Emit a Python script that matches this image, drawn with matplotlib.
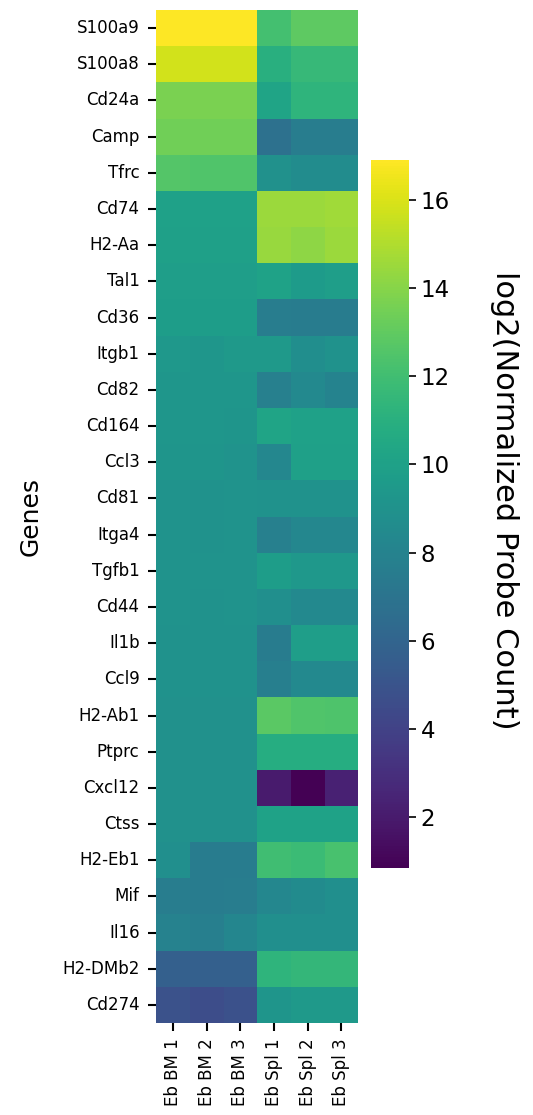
import numpy as np
import pandas as pd
import seaborn as sns
import matplotlib
matplotlib.use("Agg")
import matplotlib.pyplot as plt

genes = ["S100a9", "S100a8", "Cd24a", "Camp", "Tfrc", "Cd74", "H2-Aa", "Tal1",
         "Cd36", "Itgb1", "Cd82", "Cd164", "Ccl3", "Cd81", "Itga4", "Tgfb1",
         "Cd44", "Il1b", "Ccl9", "H2-Ab1", "Ptprc", "Cxcl12", "Ctss", "H2-Eb1",
         "Mif", "Il16", "H2-DMb2", "Cd274"]
samples = ["Eb BM 1", "Eb BM 2", "Eb BM 3", "Eb Spl 1", "Eb Spl 2", "Eb Spl 3"]

# log2 normalized probe counts
eb_bm_1 = [16.9, 15.8, 13.7, 13.4, 12.6, 10.0, 9.9, 9.8, 9.7, 9.4, 9.3, 9.3, 9.2, 9.1,
           9.1, 9.1, 9.1, 9.0, 9.0, 8.9, 8.9, 8.9, 8.9, 8.8, 7.6, 7.9, 5.7, 4.9]
eb_bm_2 = [16.9, 15.8, 13.7, 13.4, 12.5, 10.0, 9.9, 9.8, 9.7, 9.3, 9.3, 9.3, 9.2, 9.0,
           9.0, 9.1, 9.0, 9.0, 9.0, 8.9, 8.9, 8.9, 8.9, 7.5, 7.5, 7.7, 5.7, 4.6]
eb_bm_3 = [16.9, 15.8, 13.7, 13.4, 12.5, 10.0, 9.9, 9.8, 9.7, 9.5, 9.3, 9.2, 9.1, 9.1,
           9.1, 9.1, 9.1, 9.0, 9.0, 8.9, 8.9, 8.9, 8.9, 7.5, 7.6, 8.2, 5.7, 4.8]
eb_spl_1 = [12.1, 11.0, 10.2, 6.8, 8.9, 14.5, 14.4, 10.1, 7.6, 9.5, 7.8, 10.2, 8.3, 9.0,
            7.8, 9.7, 8.8, 7.5, 7.7, 12.8, 10.8, 2.0, 10.1, 12.0, 8.3, 8.8, 11.3, 9.2]
eb_spl_2 = [12.9, 11.6, 11.3, 7.6, 8.6, 14.5, 14.2, 9.6, 7.5, 8.7, 8.4, 10.0, 9.9, 9.0,
            8.3, 9.4, 8.4, 9.8, 8.4, 12.5, 10.8, 0.85, 10.1, 11.8, 8.5, 8.8, 11.5, 9.5]
eb_spl_3 = [12.9, 11.6, 11.3, 7.6, 8.6, 14.6, 14.5, 9.8, 7.5, 9.0, 8.0, 10.0, 9.9, 9.0,
            8.3, 9.4, 8.4, 9.8, 8.4, 12.4, 10.8, 2.3, 10.1, 12.2, 8.8, 8.8, 11.5, 9.5]

df = pd.DataFrame({"Eb BM 1": eb_bm_1, "Eb BM 2": eb_bm_2, "Eb BM 3": eb_bm_3,
                   "Eb Spl 1": eb_spl_1, "Eb Spl 2": eb_spl_2, "Eb Spl 3": eb_spl_3},
                  index=genes)[samples]

fig = plt.figure(figsize=(5.33, 11.15), dpi=100)
ax = fig.add_axes([0.293, 0.0825, 0.379, 0.9085])
cax = fig.add_axes([0.696, 0.2215, 0.071, 0.635])

sns.heatmap(df, cmap="viridis", ax=ax, cbar_ax=cax)

ax.set_ylabel("Genes", fontsize=18, labelpad=14)
ax.set_xlabel("")
ax.tick_params(axis="y", labelsize=12, length=6, width=1.5, pad=6, rotation=0)
ax.tick_params(axis="x", labelsize=12, length=6, width=1.5, pad=5, rotation=90)

cax.tick_params(labelsize=16.5, length=5, width=1.2)
cax.set_ylabel("log2(Normalized Probe Count)", rotation=270, fontsize=22)
cax.yaxis.set_label_coords(3.9, 0.52)

fig.savefig("out.png", dpi=100)
